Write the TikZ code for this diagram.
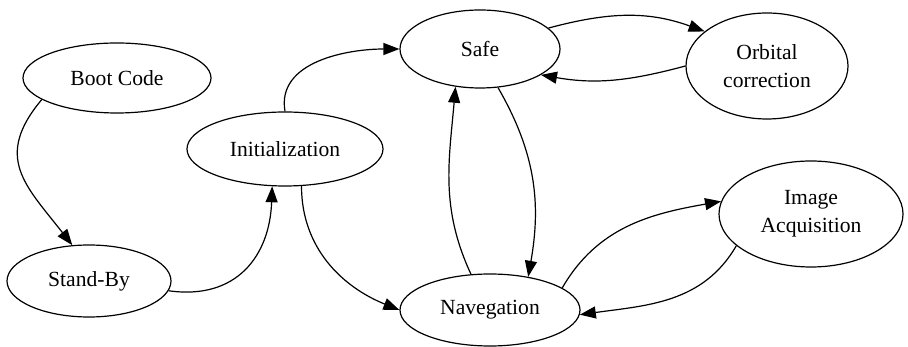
\documentclass[tikz,border=0pt]{standalone}
\usepackage{fontspec}
\setmainfont{Liberation Serif}
\usetikzlibrary{arrows.meta, shapes.geometric}

\begin{document}
\begin{tikzpicture}[x=0.5pt, y=0.5pt,
  state/.style={draw, ellipse, line width=0.6pt, inner sep=0pt, align=center,
    font=\fontsize{10.8}{14}\selectfont},
  trans/.style={line width=0.6pt, -{Triangle[length=8pt,width=6pt]}}]
\useasboundingbox (0,0) rectangle (908,347);
% states
\node[state, minimum width=94pt, minimum height=35pt] (boot) at (117,269) {Boot Code};
\node[state, minimum width=82pt, minimum height=36pt] (standby) at (89,66) {Stand-By};
\node[state, minimum width=98pt, minimum height=37pt] (init) at (285,198) {Initialization};
\node[state, minimum width=80pt, minimum height=39pt] (safe) at (480,298) {Safe};
\node[state, minimum width=81pt, minimum height=53pt] (orbit) at (767,281) {Orbital\\correction};
\node[state, minimum width=92pt, minimum height=53pt] (image) at (811,133) {Image\\Acquisition};
\node[state, minimum width=90pt, minimum height=36pt] (nav) at (490,37) {Navegation};
% transitions
\draw[trans] (boot.196) to[out=230, in=128, looseness=1.3] (standby.115);
\draw[trans] (standby.-7) to[out=-8, in=-92, looseness=1.2] (init.251);
\draw[trans] (init.90) to[out=100, in=180] (safe.180);
\draw[trans] (init.-66) to[out=-90, in=158] (nav.180);
\draw[trans] (safe.17) to[out=15, in=160] (orbit.151);
\draw[trans] (orbit.180) to[out=195, in=-10] (safe.-23);
\draw[trans] (nav.118) to[out=115, in=-95] (safe.237);
\draw[trans] (safe.-65) to[out=-60, in=80] (nav.41);
\draw[trans] (nav.17) to[out=60, in=190] (image.172);
\draw[trans] (image.203) to[out=240, in=8] (nav.-3);
\end{tikzpicture}
\end{document}
